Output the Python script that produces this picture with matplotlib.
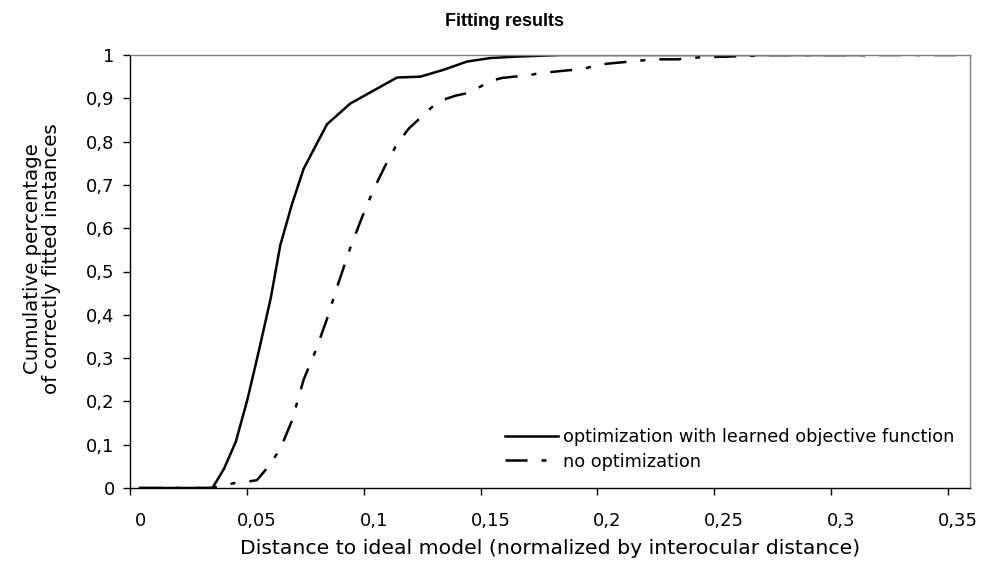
import numpy as np
import matplotlib
matplotlib.use("Agg")
import matplotlib.pyplot as plt
from matplotlib.ticker import FixedLocator

plt.rcParams['font.family'] = ['DejaVu Sans']

# solid curve: optimization with learned objective function
learned_x = [0.0, 0.01, 0.02, 0.031, 0.036, 0.041, 0.046, 0.051, 0.056, 0.06,
             0.065, 0.07, 0.08, 0.09, 0.1, 0.11, 0.12, 0.13, 0.14, 0.15, 0.16,
             0.17, 0.18, 0.2, 0.22, 0.25, 0.28, 0.31]
learned_y = [0.0, 0.0, 0.0, 0.0, 0.045, 0.107, 0.205, 0.32, 0.44, 0.56,
             0.655, 0.737, 0.84, 0.888, 0.918, 0.948, 0.95, 0.966, 0.985, 0.993, 0.996,
             0.998, 1.0, 1.0, 1.0, 1.0, 1.0, 1.0]

# dash-dot curve: no optimization
noopt_x = [0.0, 0.01, 0.02, 0.03, 0.035, 0.04, 0.045, 0.05, 0.055, 0.06,
           0.065, 0.07, 0.075, 0.08, 0.085, 0.09, 0.095, 0.1, 0.105, 0.11,
           0.115, 0.12, 0.125, 0.13, 0.135, 0.14, 0.145, 0.15, 0.155, 0.16,
           0.165, 0.17, 0.175, 0.18, 0.19, 0.195, 0.2, 0.21, 0.22, 0.23,
           0.24, 0.25, 0.26, 0.27, 0.3, 0.33, 0.35]
noopt_y = [0.0, 0.0, 0.0, 0.0, 0.004, 0.011, 0.014, 0.018, 0.05, 0.09,
           0.155, 0.25, 0.315, 0.39, 0.475, 0.555, 0.625, 0.69, 0.745, 0.795,
           0.83, 0.855, 0.88, 0.897, 0.906, 0.912, 0.925, 0.94, 0.947, 0.95,
           0.952, 0.957, 0.96, 0.963, 0.968, 0.976, 0.98, 0.985, 0.99, 0.99,
           0.995, 0.996, 0.998, 1.0, 1.0, 1.0, 1.0]

series_labels = ["optimization with learned objective function", "no optimization"]

xtick_values = [0.0, 0.05, 0.1, 0.15, 0.2, 0.25, 0.3, 0.35]
xtick_labels = ["0", "0,05", "0,1", "0,15", "0,2", "0,25", "0,3", "0,35"]
ytick_values = [0.0, 0.1, 0.2, 0.3, 0.4, 0.5, 0.6, 0.7, 0.8, 0.9, 1.0]
ytick_labels = ["0", "0,1", "0,2", "0,3", "0,4", "0,5", "0,6", "0,7", "0,8", "0,9", "1"]

fs = 13

fig = plt.figure(figsize=(9.81, 5.73), dpi=100)
ax = fig.add_axes([130 / 981, 85 / 573, 840 / 981, 433 / 573])

ax.plot(noopt_x, noopt_y, color='black', lw=1.8,
        dashes=(8.8, 5.6, 2.0, 5.6), label=series_labels[1])
ax.plot(learned_x, learned_y, color='black', lw=1.8,
        solid_joinstyle='miter', label=series_labels[0])

# excel category axis: labels sit right of the tick marks
offset = 10 / 2337
ax.set_xlim(-offset, 840 / 2337 - offset)
ax.set_ylim(0, 1)

ax.set_xticks(xtick_values)
ax.set_xticklabels(xtick_labels, fontsize=fs)
ax.tick_params(axis='x', which='major', length=0, pad=17)
ax.xaxis.set_minor_locator(FixedLocator([v - offset for v in xtick_values]))
ax.tick_params(axis='x', which='minor', length=5, width=1, direction='out')

ax.set_yticks(ytick_values)
ax.set_yticklabels(ytick_labels, fontsize=fs)
ax.tick_params(axis='y', length=5, width=1, direction='out', pad=6)

for side in ['left', 'bottom']:
    ax.spines[side].set_color('black')
    ax.spines[side].set_linewidth(1)
for side in ['top', 'right']:
    ax.spines[side].set_color('#7f7f7f')
    ax.spines[side].set_linewidth(1)

handles, labels = ax.get_legend_handles_labels()
ax.legend(handles[::-1], labels[::-1], loc='lower left',
          bbox_to_anchor=(0.446, 0.04), frameon=False, fontsize=12.8,
          handlelength=3.0, handletextpad=0.3, labelspacing=0.35,
          borderpad=0, borderaxespad=0)

fig.text(505 / 981, 1 - 22 / 573, "Fitting results", ha='center', va='center',
         fontsize=13, fontweight='bold', family='Liberation Sans')
fig.text(550 / 981, 1 - 548 / 573,
         "Distance to ideal model (normalized by interocular distance)",
         ha='center', va='center', fontsize=14.7)
fig.text(42 / 981, 1 - 259 / 573,
         "Cumulative percentage\nof correctly fitted instances",
         ha='center', va='center', rotation=90, fontsize=14.2,
         multialignment='center', linespacing=1.05)

fig.savefig("out.png", dpi=100)
